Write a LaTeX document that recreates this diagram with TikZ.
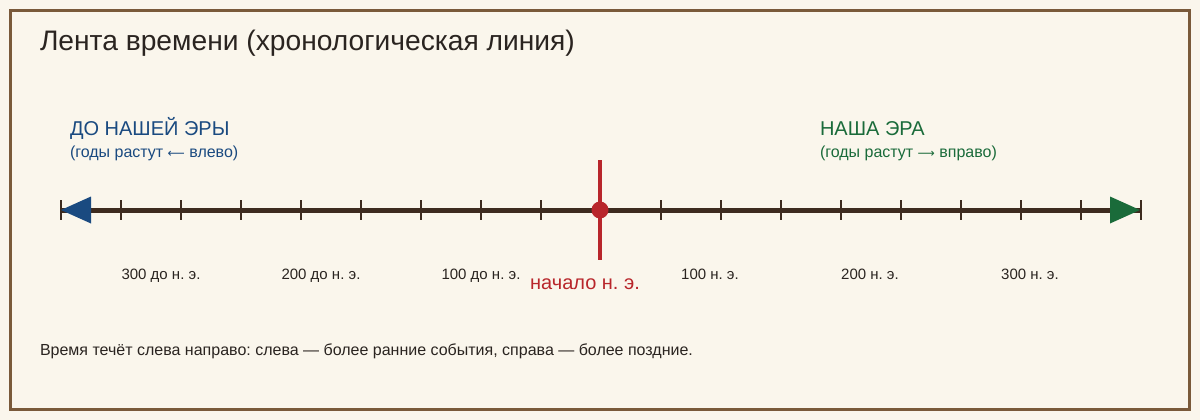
\documentclass[tikz,border=0pt]{standalone}
\usepackage{fontspec}
\setmainfont{Liberation Sans}
\newfontfamily\arrowfont{DejaVu Sans}
\definecolor{bg}{HTML}{FAF6EC}
\definecolor{frame}{HTML}{7A5A3A}
\definecolor{axis}{HTML}{3D2B1F}
\definecolor{bcblue}{HTML}{1A4A80}
\definecolor{adgreen}{HTML}{1A6B3A}
\definecolor{zred}{HTML}{B8262B}
\definecolor{ink}{HTML}{2A2420}
\frenchspacing
\tikzset{
  every node/.style={inner sep=0pt, outer sep=0pt},
  ticklbl/.style={font=\fontsize{15}{17}\selectfont, text=ink, anchor=base},
  tickmark/.style={draw=axis, line width=2pt},
}
\begin{document}
\begin{tikzpicture}[x=1pt,y=-1pt]
\fill[bg] (0,0) rectangle (1200,420);
\useasboundingbox (0,0) rectangle (1200,420);
\draw[frame, line width=3pt] (10.5,10.5) rectangle (1189.5,409.5);

\node[anchor=base west, font=\fontsize{28.2}{32}\selectfont, text=ink] (title) at (40,51) {Лента времени (хронологическая линия)};

\node[anchor=base west, font=\fontsize{20}{24}\selectfont, text=bcblue] (bc) at (70,135) {ДО НАШЕЙ ЭРЫ};
\node[anchor=base west, font=\fontsize{16}{18}\selectfont, text=bcblue] (bcsub) at (70,157) {(годы растут {\arrowfont\fontsize{12}{18}\selectfont ⟵} влево)};
\node[anchor=base west, font=\fontsize{20}{24}\selectfont, text=adgreen] (ad) at (820,135) {НАША ЭРА};
\node[anchor=base west, font=\fontsize{16}{18}\selectfont, text=adgreen] (adsub) at (820,157) {(годы растут {\arrowfont\fontsize{12}{18}\selectfont ⟶} вправо)};

\coordinate (L) at (61,210);
\coordinate (R) at (1141,210);
\draw[axis, line width=5pt] (L) -- (R);
\foreach \i in {0,...,18} {
  \draw[tickmark] (61+60*\i,200) -- (61+60*\i,220);
}
\fill[bcblue] (L) -- (91,196.5) -- (91,223.5) -- cycle;
\fill[adgreen] (1140,210) -- (1110,196.5) -- (1110,223.5) -- cycle;

\coordinate (ztop) at (600,160);
\coordinate (zbot) at (600,260);
\draw[zred, line width=4pt] (ztop) -- (zbot);
\fill[zred] (600,210) circle (8.5);

\node[ticklbl] (m300) at (161,279) {300 до н. э.};
\node[ticklbl] (m200) at (321,279) {200 до н. э.};
\node[ticklbl] (m100) at (481,279) {100 до н. э.};
\node[ticklbl] (p100) at (710,279) {100 н. э.};
\node[ticklbl] (p200) at (870,279) {200 н. э.};
\node[ticklbl] (p300) at (1030,279) {300 н. э.};
\node[anchor=base, font=\fontsize{20}{24}\selectfont, text=zred] (zero) at (585,289) {начало н. э.};

\node[anchor=base west, font=\fontsize{16}{18}\selectfont, text=ink] (note) at (40,355) {Время течёт слева направо: слева — более ранние события, справа — более поздние.};
\end{tikzpicture}
\end{document}
